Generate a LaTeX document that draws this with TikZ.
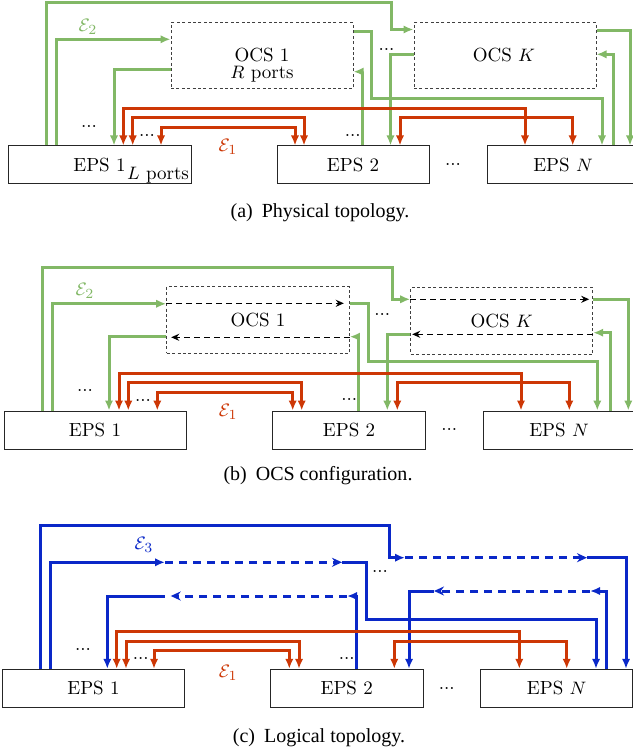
\documentclass[tikz,border=0pt]{standalone}
\usepackage{fontspec}
\newfontfamily\capfont{Liberation Serif}
\usetikzlibrary{arrows.meta}
\definecolor{eg}{RGB}{130,184,102}
\definecolor{er}{RGB}{205,55,5}
\definecolor{eb}{RGB}{10,40,200}
\begin{document}
\begin{tikzpicture}[x=0.5pt,y=-0.5pt,
  font=\fontsize{9.5}{11.5}\selectfont,
  eps/.style={draw=black!85, line width=0.5pt, minimum height=19pt, inner sep=0pt},
  ocs/.style={draw=black!75, line width=0.5pt, dash pattern=on 1.5pt off 1.2pt, minimum height=33pt, minimum width=91pt, inner sep=0pt},
  gl/.style={eg, line width=1.5pt, -{Latex[length=5pt,width=4.2pt]}},
  rl/.style={er, line width=1.5pt, {Latex[length=5pt,width=4.2pt]}-{Latex[length=5pt,width=4.2pt]}},
  bl/.style={eb, line width=1.5pt, -{Latex[length=5pt,width=4.2pt]}},
  bd/.style={eb, line width=1.5pt, dash pattern=on 4pt off 3pt, -{Stealth[length=5pt,width=4.5pt]}},
  kd/.style={black, line width=0.8pt, dash pattern=on 3pt off 2pt, -{Stealth[length=4pt,width=3.5pt]}},
  txt/.style={inner sep=0pt},
  captxt/.style={inner sep=0pt, font=\capfont\fontsize{10}{12}\selectfont}]
\useasboundingbox (0,0) rectangle (632,753);

% ================= (a) Physical topology =================
\node[eps, minimum width=91.5pt] (e1a) at (99.5,165) {EPS 1};
\node[eps, minimum width=76pt] (e2a) at (353,165) {EPS 2};
\node[eps, minimum width=76pt] (eNa) at (563,165) {EPS $N$};
\node[txt] (lpa) at (158,175) {$L$ ports};
\node[ocs] (o1a) at (262,56) {};
\node[txt] (o1at) at (262,55) {OCS 1};
\node[txt] (o1ar) at (262,74.5) {$R$ ports};
\node[ocs] (o2a) at (505,56) {};
\node[txt] (o2at) at (504,55) {OCS $K$};

\draw[gl] (e1a.north -| 46,0) |- (391,3) |- (o2a.west |- 0,29.5);
\draw[gl] (e1a.north -| 56,0) |- (o1a.west |- 0,39.3);
\draw[gl] (o1a.west |- 0,70) -| (e1a.north -| 114,0);
\draw[gl] (o1a.east |- 0,31.7) -| (371.5,98.5) -| (eNa.north -| 602,0);
\draw[gl] (e2a.north -| 362.3,0) |- (o1a.east |- 0,71.7);
\draw[gl] (o2a.west |- 0,55) -| (e2a.north -| 390.5,0);
\draw[gl] (o2a.east |- 0,31) -| (eNa.north -| 630,0);
\draw[gl] (eNa.north -| 613.3,0) |- (o2a.east |- 0,54.3);

\draw[rl] (e1a.north -| 123.3,0) |- (525,108.3) -- (eNa.north -| 525,0);
\draw[rl] (e1a.north -| 132.7,0) |- (304,117.7) -- (e2a.north -| 304,0);
\draw[rl] (e1a.north -| 161,0) |- (295,127.3) -- (e2a.north -| 295,0);
\draw[rl] (e2a.north -| 400,0) |- (572.7,117.3) -- (eNa.north -| 572.7,0);

\node[txt, text=eg] (E2a) at (88,27) {$\mathcal{E}_2$};
\node[txt, text=er] (E1a) at (228,146.5) {$\mathcal{E}_1$};
\node[txt] (d1a) at (89,126) {...};
\node[txt] (d2a) at (147,135) {...};
\node[txt] (d3a) at (352.7,135.5) {...};
\node[txt] (d4a) at (386.5,49.5) {...};
\node[txt] (d5a) at (453,164) {...};
\node[captxt] (capa) at (320,213) {(a)\hspace{4.5pt}Physical topology.};

% ================= (b) OCS configuration =================
\node[eps, minimum width=91pt] (e1b) at (95,430) {EPS 1};
\node[eps, minimum width=76.5pt] (e2b) at (349,430) {EPS 2};
\node[eps, minimum width=76pt] (eNb) at (559,430) {EPS $N$};
\node[ocs, minimum width=91.3pt, minimum height=33.3pt] (o1b) at (258,320) {OCS 1};
\node[ocs, minimum height=33.2pt] (o2b) at (501.7,321) {OCS $K$};

\draw[kd, shorten >=3pt] (o1b.west |- 0,303.3) -- (o1b.east |- 0,303.3);
\draw[kd, shorten >=2.5pt] (o1b.east |- 0,337.3) -- (o1b.west |- 0,337.3);
\draw[kd, shorten >=2pt] (o2b.west |- 0,299.3) -- (o2b.east |- 0,299.3);
\draw[kd, shorten >=1pt] (o2b.east |- 0,334.3) -- (o2b.west |- 0,334.3);

\draw[gl] (e1b.north -| 42.7,0) |- (392.3,267.7) |- (o2b.west |- 0,299.3);
\draw[gl] (e1b.north -| 52.3,0) |- (o1b.west |- 0,303.8);
\draw[gl] (o1b.west |- 0,336.7) -| (e1b.north -| 109,0);
\draw[gl] (o1b.east |- 0,303.3) -| (368.3,361) -| (eNb.north -| 597.3,0);
\draw[gl] (e2b.north -| 358.3,0) |- (o1b.east |- 0,336.7);
\draw[gl] (o2b.west |- 0,334) -| (e2b.north -| 387.3,0);
\draw[gl] (o2b.east |- 0,299.3) -| (eNb.north -| 628.3,0);
\draw[gl] (eNb.north -| 610,0) |- (o2b.east |- 0,332.7);

\draw[rl] (e1b.north -| 119,0) |- (521,373.3) -- (eNb.north -| 521,0);
\draw[rl] (e1b.north -| 128.3,0) |- (301.7,382.7) -- (e2b.north -| 301.7,0);
\draw[rl] (e1b.north -| 157.3,0) |- (292.7,392.3) -- (e2b.north -| 292.7,0);
\draw[rl] (e2b.north -| 397.3,0) |- (569.3,382.3) -- (eNb.north -| 569.3,0);

\node[txt, text=eg] (E2b) at (85,291) {$\mathcal{E}_2$};
\node[txt, text=er] (E1b) at (228.3,411.5) {$\mathcal{E}_1$};
\node[txt] (d1b) at (85,390.7) {...};
\node[txt] (d2b) at (143,400.7) {...};
\node[txt] (d3b) at (349.3,399.7) {...};
\node[txt] (d4b) at (382.3,314) {...};
\node[txt] (d5b) at (449.3,429) {...};
\node[captxt] (capb) at (318,476) {(b)\hspace{4.5pt}OCS configuration.};

% ================= (c) Logical topology =================
\node[eps, minimum width=91pt, minimum height=19.2pt] (e1c) at (93.5,688.5) {EPS 1};
\node[eps, minimum width=76.5pt, minimum height=19.2pt] (e2c) at (346.7,688.5) {EPS 2};
\node[eps, minimum width=76pt, minimum height=19.2pt] (eNc) at (556.7,688.5) {EPS $N$};

\coordinate (p1i) at (165,562.3);
\coordinate (p1o) at (342,562.3);
\coordinate (q1o) at (347,596);
\coordinate (q1i) at (170.7,596);
\coordinate (pKi) at (405,557.7);
\coordinate (pKo) at (587,557.7);
\coordinate (qKo) at (590,591);
\coordinate (qKi) at (434,591);

\draw[bl] (e1c.north -| 40,0) |- (389.3,525) |- (pKi);
\draw[bd] (pKi) -- (pKo);
\draw[bl] (pKo) -| (eNc.north -| 626,0);

\draw[bl] (e1c.north -| 50,0) |- (p1i);
\draw[bd] (p1i) -- (p1o);
\draw[bl] (p1o) -| (366.7,619) -| (eNc.north -| 596,0);

\draw[bl] (e2c.north -| 356.7,0) |- (q1o);
\draw[bd] (q1o) -- (q1i);
\draw[bl, shorten <=3pt] (q1i) -| (e1c.north -| 107.3,0);

\draw[bl] (eNc.north -| 606.7,0) |- (qKo);
\draw[bd] (qKo) -- (qKi);
\draw[bl] (qKi) -| (e2c.north -| 409,0);

\draw[rl] (e1c.north -| 116.7,0) |- (519.3,631) -- (eNc.north -| 519.3,0);
\draw[rl] (e1c.north -| 126,0) |- (299,641) -- (e2c.north -| 299,0);
\draw[rl] (e1c.north -| 154,0) |- (289.3,650) -- (e2c.north -| 289.3,0);
\draw[rl] (e2c.north -| 394.3,0) |- (566.7,641) -- (eNc.north -| 566.7,0);

\node[txt, text=eb] (E3c) at (144,545) {$\mathcal{E}_3$};
\node[txt, text=er] (E1c) at (228.3,673) {$\mathcal{E}_1$};
\node[txt] (d1c) at (83,649) {...};
\node[txt] (d2c) at (140.7,658) {...};
\node[txt] (d3c) at (346.7,658) {...};
\node[txt] (d4c) at (380,571.3) {...};
\node[txt] (d5c) at (446.7,688) {...};
\node[captxt] (capc) at (319,738) {(c)\hspace{4.5pt}Logical topology.};
\end{tikzpicture}
\end{document}
